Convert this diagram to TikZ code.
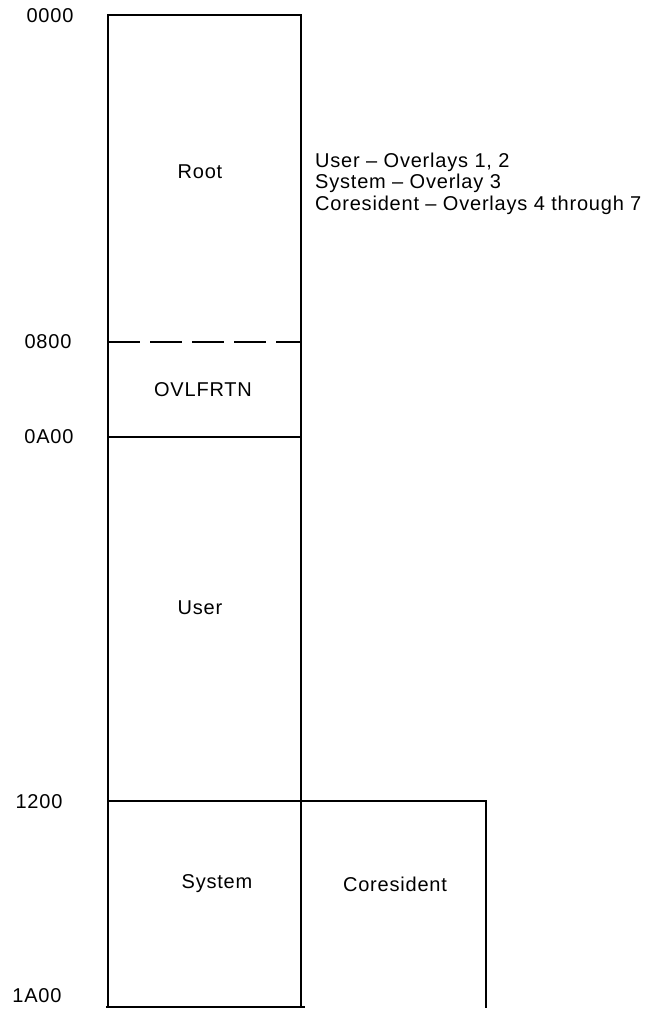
\documentclass[tikz,border=0pt]{standalone}
\usepackage{fontspec}
\setmainfont[LetterSpace=4]{Liberation Sans}
\tikzset{
    wall/.style={line width=2.2pt},
    lbl/.style={font=\fontsize{20}{23}\selectfont, inner sep=0pt}
}
\begin{document}
\begin{tikzpicture}[x=1pt, y=-1pt]
        \useasboundingbox (0,0) rectangle (654,1009);
        % memory column
            \draw[wall] (108,1007) -- (108,15) -- (301,15) -- (301,1007);
            \draw[wall] (106,1007) -- (305,1007);
            \draw[wall, dash pattern=on 32pt off 10pt] (108,342) -- (301,342);
            \draw[wall] (108,437) -- (301,437);
            \draw[wall] (108,801) -- (486,801) -- (486,1008);
        % addresses
            \foreach \y/\a/\x in {16/0000/50,342/0800/48,437/0A00/49,802/1200/39,996/1A00/37}{
                \node[lbl] (addr\a) at (\x,\y) {\a};
            }
        % segments
            \foreach \x/\y/\v/\t in {200/172/root/Root,203/390/ovl/OVLFRTN,200/608/user/User,217/884/system/System,395/884/cores/Coresident}{
                \node[lbl] (\v) at (\x,\y) {\t};
            }
        % overlay key
            \node[lbl, anchor=west] (key1) at (315,162) {User -- Overlays 1, 2};
            \node[lbl, anchor=west] (key2) at (315,183) {System -- Overlay 3};
            \node[lbl, anchor=west] (key3) at (315,205) {Coresident -- Overlays 4 through 7};
        \end{tikzpicture}
\end{document}
